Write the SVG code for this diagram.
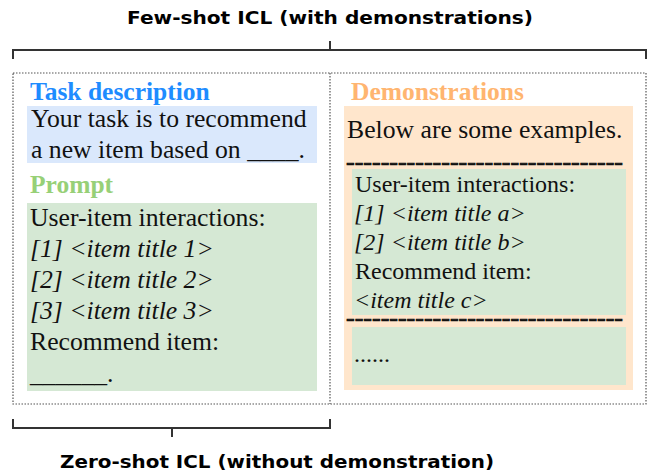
<svg xmlns="http://www.w3.org/2000/svg" width="647" height="472" viewBox="0 0 647 472">
<style>
.hdr{font-family:"DejaVu Sans","Noto Sans",sans-serif;font-weight:bold;font-size:18px;fill:#000}
.sec{font-family:"Liberation Serif","Times New Roman",serif;font-weight:bold;font-size:25.5px}
.t{font-family:"Liberation Serif","Times New Roman",serif;font-size:25.7px;fill:#111}
.s{font-family:"Liberation Serif","Times New Roman",serif;font-size:24px;fill:#111}
.i{font-style:italic}
.br{fill:none;stroke:#333;stroke-width:2}
.dot{fill:none;stroke:#555;stroke-width:1.2;stroke-dasharray:1.5 1.5}
.dash{font-family:"DejaVu Sans",sans-serif;font-size:12px;font-weight:bold;fill:#111;stroke:#111;stroke-width:0.7}
</style>
<rect width="647" height="472" fill="#fff"/>
<g id="connectors">
<path class="br" d="M13 59 V50 H646 V59 M330 41 V50"/>
<path class="br" d="M13 419 V428 H330 V419 M172 428 V437"/>
</g>
<g id="few-shot-label">
<text class="hdr" x="330" y="24" text-anchor="middle" textLength="406" lengthAdjust="spacingAndGlyphs">Few-shot ICL (with demonstrations)</text>
</g>
<g id="zero-shot-label">
<text class="hdr" x="277" y="468" text-anchor="middle" textLength="434" lengthAdjust="spacingAndGlyphs">Zero-shot ICL (without demonstration)</text>
</g>
<g id="frame">
<rect class="dot" x="13" y="73" width="633" height="331"/>
<line class="dot" x1="330" y1="73" x2="330" y2="404"/>
</g>
<g id="task-description">
<text class="sec" x="30" y="100" fill="#1E8CFF">Task description</text>
<rect x="27" y="106" width="290" height="57" fill="#DAE8FC"/>
<text class="t" x="31" y="127">Your task is to recommend</text>
<text class="t" x="31" y="158">a new item based on ____.</text>
</g>
<g id="prompt">
<text class="sec" x="30" y="193" fill="#97D077">Prompt</text>
<rect x="27" y="203" width="290" height="188" fill="#D5E8D4"/>
<text class="t" x="30" y="226">User-item interactions:</text>
<text class="t i" x="30" y="257">[1] &lt;item title 1&gt;</text>
<text class="t i" x="30" y="288">[2] &lt;item title 2&gt;</text>
<text class="t i" x="30" y="319">[3] &lt;item title 3&gt;</text>
<text class="t" x="30" y="350">Recommend item:</text>
<text class="t" x="30" y="382">______.</text>
</g>
<g id="demonstrations">
<text class="sec" x="351" y="100" fill="#FFB570">Demonstrations</text>
<rect x="344" y="106" width="289" height="284" fill="#FFE6CC"/>
<text class="t" x="347" y="138">Below are some examples.</text>
<text class="dash" x="346" y="168" textLength="277" lengthAdjust="spacingAndGlyphs">--------------------------------</text>
<rect x="352" y="169" width="274" height="146" fill="#D5E8D4"/>
<text class="s" x="355" y="192">User-item interactions:</text>
<text class="s i" x="354" y="221">[1] &lt;item title a&gt;</text>
<text class="s i" x="354" y="250">[2] &lt;item title b&gt;</text>
<text class="s" x="355" y="279">Recommend item:</text>
<text class="s i" x="354" y="308">&lt;item title c&gt;</text>
<text class="dash" x="346" y="324" textLength="277" lengthAdjust="spacingAndGlyphs">--------------------------------</text>
<rect x="352" y="327" width="274" height="58" fill="#D5E8D4"/>
<text class="s" x="354" y="362">......</text>
</g>
</svg>
